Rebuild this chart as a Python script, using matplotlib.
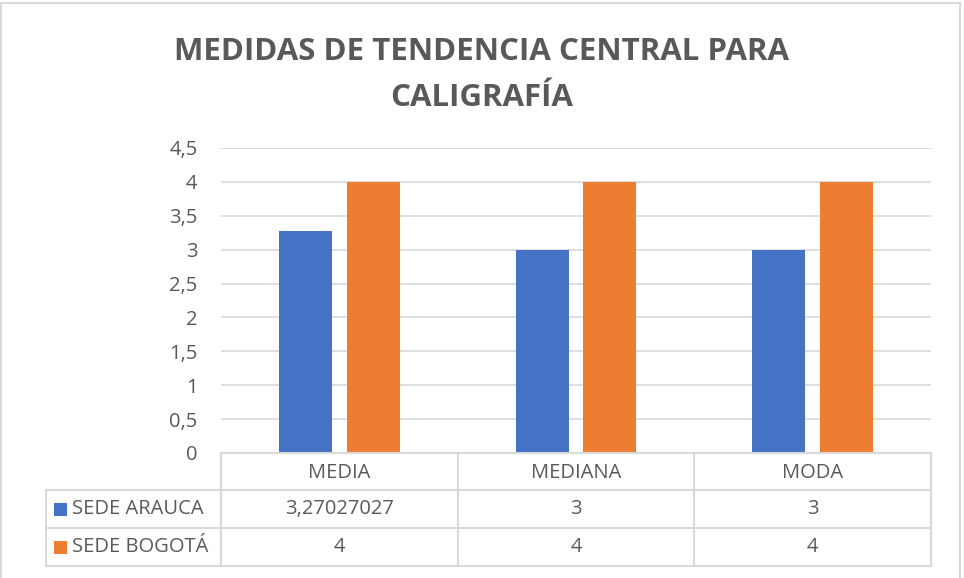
import matplotlib
matplotlib.use("Agg")
import matplotlib.pyplot as plt
from matplotlib.patches import Rectangle
from matplotlib.lines import Line2D

categories = ["MEDIA", "MEDIANA", "MODA"]
series_names = ["SEDE ARAUCA", "SEDE BOGOTÁ"]
arauca = [3.27027027, 3, 3]
bogota = [4, 4, 4]
cell_text = [["3,27027027", "3", "3"], ["4", "4", "4"]]
yticks = [0, 0.5, 1, 1.5, 2, 2.5, 3, 3.5, 4, 4.5]
ytick_labels = ["0", "0,5", "1", "1,5", "2", "2,5", "3", "3,5", "4", "4,5"]
colors = ["#4472C4", "#ED7D31"]

W, H = 964, 578
fig = plt.figure(figsize=(W / 100, H / 100), dpi=100)
fig.patch.set_facecolor("white")

txt = "#595959"
grid = "#D9D9D9"
font = "Open Sans"
fs = 14.5

def fx(px):
    return px / W

def fy(py):
    return 1 - py / H

# outer border
fig.add_artist(Rectangle((fx(1), fy(590)), fx(959), (590 - 3) / H, transform=fig.transFigure,
                         fill=False, edgecolor="#D9D9D9", linewidth=1.5))

ax_l, ax_r, ax_t, ax_b = 221, 931, 148, 453
ax = fig.add_axes([fx(ax_l), fy(ax_b), fx(ax_r - ax_l), (ax_b - ax_t) / H])
ax.set_xlim(-0.5, 2.5)
ax.set_ylim(0, 4.5)

width = 0.224
off = 0.143
x = list(range(len(categories)))
ax.bar([i - off for i in x], arauca, width=width, color=colors[0], zorder=3)
ax.bar([i + off for i in x], bogota, width=width, color=colors[1], zorder=3)

ax.set_yticks(yticks)
ax.set_yticklabels(ytick_labels, fontsize=fs, color=txt, family=font)
ax.tick_params(axis="y", length=0, pad=17)
ax.set_xticks([])
for yv in yticks[1:]:
    ax.axhline(yv, color=grid, linewidth=1.2, zorder=1)
for s in ax.spines.values():
    s.set_visible(False)

# title
fig.text(fx(481.5), fy(52), "MEDIDAS DE TENDENCIA CENTRAL PARA", ha="center", va="center",
         fontsize=22.5, fontweight="bold", color=txt, family=font)
fig.text(fx(481.5), fy(98), "CALIGRAFÍA", ha="center", va="center",
         fontsize=22.5, fontweight="bold", color=txt, family=font)

# data table
lw = 1.5
def hline(y, x0, x1):
    fig.add_artist(Line2D([fx(x0), fx(x1)], [fy(y), fy(y)], transform=fig.transFigure,
                          color=grid, linewidth=lw))

def vline(xp, y0, y1):
    fig.add_artist(Line2D([fx(xp), fx(xp)], [fy(y0), fy(y1)], transform=fig.transFigure,
                          color=grid, linewidth=lw))

row_y = [453, 490, 528, 566]
col_x = [221 + (931 - 221) * k / 3 for k in range(4)]
hline(row_y[0], col_x[0], col_x[-1])
for yv in row_y[1:]:
    hline(yv, 46, col_x[-1])
for xv in col_x:
    vline(xv, row_y[0], row_y[-1])
vline(46, row_y[1], row_y[-1])

for j, cat in enumerate(categories):
    cx = (col_x[j] + col_x[j + 1]) / 2
    fig.text(fx(cx), fy((row_y[0] + row_y[1]) / 2 + 1), cat, ha="center", va="center",
             fontsize=fs, color=txt, family=font)
    for r in range(2):
        fig.text(fx(cx), fy((row_y[r + 1] + row_y[r + 2]) / 2), cell_text[r][j],
                 ha="center", va="center", fontsize=fs, color=txt, family=font)

for r, name in enumerate(series_names):
    yc = (row_y[r + 1] + row_y[r + 2]) / 2
    fig.add_artist(Rectangle((fx(54), fy(yc + 6.5)), fx(13), 13 / H, transform=fig.transFigure,
                             facecolor=colors[r], edgecolor="none"))
    fig.text(fx(72), fy(yc), name, ha="left", va="center", fontsize=fs, color=txt, family=font)

fig.savefig("out.png", dpi=100, facecolor="white")
